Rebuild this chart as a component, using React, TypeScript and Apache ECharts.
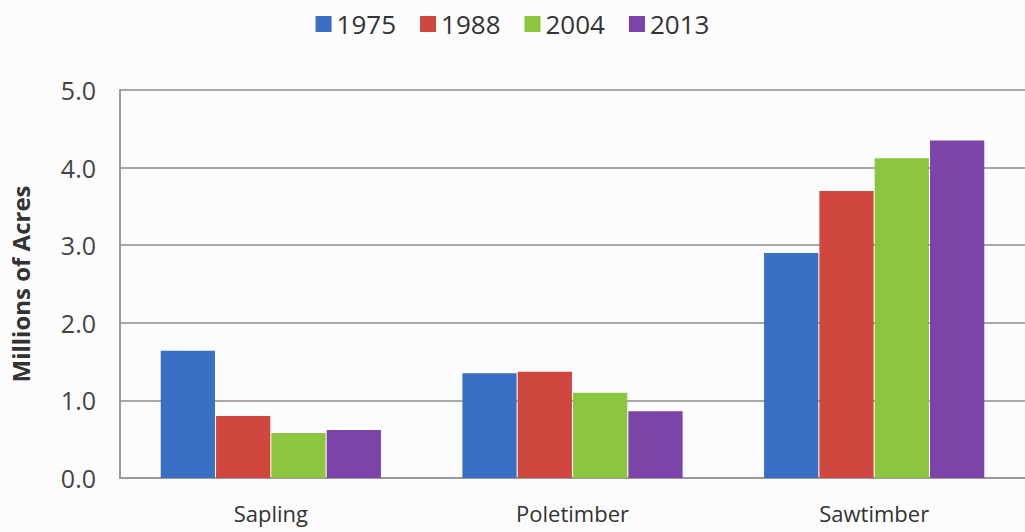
import React, { useEffect, useRef } from "react";
import * as echarts from "echarts";

const categories = ["Sapling", "Poletimber", "Sawtimber"];
const years = ["1975", "1988", "2004", "2013"];
const v1975 = [1.64, 1.35, 2.9];
const v1988 = [0.8, 1.37, 3.7];
const v2004 = [0.58, 1.1, 4.12];
const v2013 = [0.62, 0.86, 4.35];
const colors = ["#3a6fc6", "#cf473f", "#8cc63e", "#7c43a9"];

export default function App() {
  const ref = useRef<HTMLDivElement>(null);
  useEffect(() => {
    if (!ref.current) return;
    const chart = echarts.init(ref.current, undefined, { renderer: "svg" });
    const font = "'Open Sans', 'Noto Sans', sans-serif";
    const data = [v1975, v1988, v2004, v2013];
    chart.setOption({
      animation: false,
      backgroundColor: "#fcfcfc",
      textStyle: { fontFamily: font },
      legend: {
        top: 6,
        left: "center",
        itemWidth: 16,
        itemHeight: 16,
        itemGap: 24,
        icon: "rect",
        textStyle: { fontSize: 26, color: "#333", fontFamily: font },
        data: years,
      },
      grid: { left: 120, right: -7, top: 90, bottom: 54 },
      xAxis: {
        type: "category",
        data: categories,
        axisLine: { show: true, lineStyle: { color: "#9a9a9a", width: 2 } },
        axisTick: { show: false },
        axisLabel: { fontSize: 22, color: "#333", margin: 24, fontFamily: font },
      },
      yAxis: {
        type: "value",
        min: 0,
        max: 5,
        interval: 1,
        name: "Millions of Acres",
        nameLocation: "middle",
        nameGap: 88,
        nameTextStyle: { fontSize: 24, fontWeight: "bold", color: "#333", fontFamily: font },
        axisLine: { show: true, lineStyle: { color: "#9a9a9a", width: 2 } },
        axisTick: { show: false },
        splitLine: { lineStyle: { color: "#a8a8a8", width: 2 } },
        axisLabel: {
          fontSize: 25,
          color: "#444",
          margin: 24,
          fontFamily: font,
          formatter: (v: number) => v.toFixed(1),
        },
      },
      series: years.map((y, i) => ({
        name: y,
        type: "bar",
        data: data[i],
        barGap: "2%",
        barCategoryGap: "27%",
        itemStyle: { color: colors[i] },
      })),
    });
    return () => chart.dispose();
  }, []);
  return (
    <div
      ref={ref}
      style={{ position: "fixed", left: 0, top: 0, width: 1025, height: 532 }}
    />
  );
}
